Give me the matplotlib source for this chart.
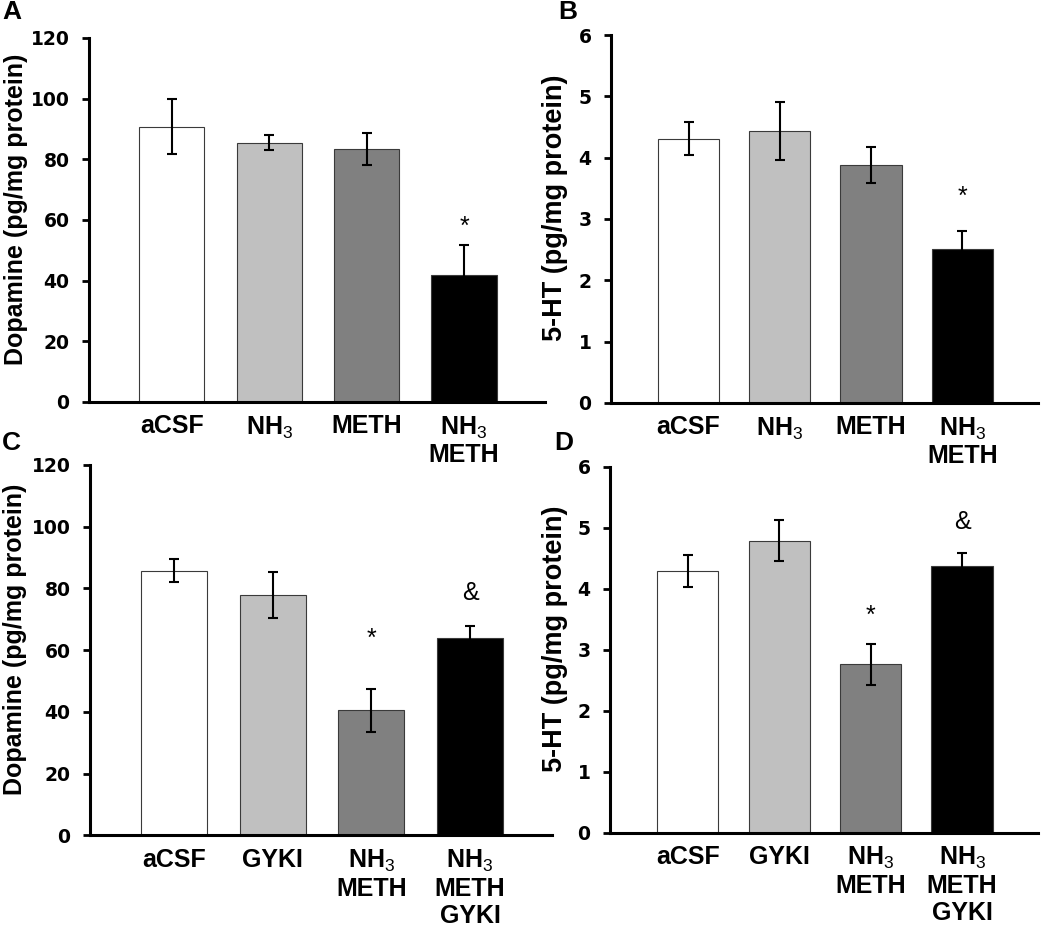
import matplotlib
matplotlib.use("Agg")
import matplotlib.pyplot as plt
import numpy as np

plt.rcParams['font.family'] = 'Liberation Sans'
plt.rcParams['mathtext.fontset'] = 'custom'
plt.rcParams['mathtext.rm'] = 'Liberation Sans'
plt.rcParams['mathtext.bf'] = 'Liberation Sans:bold'

# data (mean, error)
labels_top = ['aCSF', r'NH$_\mathrm{3}$', 'METH', 'NH$_\\mathrm{3}$\nMETH']
labels_bot = ['aCSF', 'GYKI', 'NH$_\\mathrm{3}$\nMETH', 'NH$_\\mathrm{3}$\nMETH\nGYKI']

da_a = [90.8, 85.5, 83.4, 41.9]
da_a_err = [9.0, 2.5, 5.3, 9.8]
ht_b = [4.31, 4.44, 3.88, 2.51]
ht_b_err = [0.27, 0.47, 0.30, 0.30]
da_c = [85.7, 77.9, 40.5, 63.8]
da_c_err = [3.8, 7.4, 7.0, 4.0]
ht_d = [4.29, 4.79, 2.76, 4.37]
ht_d_err = [0.26, 0.34, 0.34, 0.22]

marks_a = ['', '', '', '*']
marks_b = ['', '', '', '*']
marks_c = ['', '', '*', '&']
marks_d = ['', '', '*', '&']

bar_colors = ['white', '#c0c0c0', '#808080', 'black']

fig = plt.figure(figsize=(10.5, 9.26), dpi=100)

panels = [
    # letter, rect, values, errors, labels, marks, ymax, ystep, ylabel, label size, label x, mark pad (pt)
    ('A', [0.0848, 0.566, 0.4342, 0.393], da_a, da_a_err, labels_top, marks_a, 120, 20,
     'Dopamine (pg/mg protein)', 18, -0.134, [13, 13, 13, 13]),
    ('B', [0.5819, 0.565, 0.4067, 0.397], ht_b, ht_b_err, labels_top, marks_b, 6, 1,
     '5-HT (pg/mg protein)', 19.5, -0.10, [24, 24, 24, 24]),
    ('C', [0.0857, 0.098, 0.44, 0.400], da_c, da_c_err, labels_bot, marks_c, 120, 20,
     'Dopamine (pg/mg protein)', 18, -0.136, [36, 36, 36, 24]),
    ('D', [0.581, 0.1007, 0.4076, 0.395], ht_d, ht_d_err, labels_bot, marks_d, 6, 1,
     '5-HT (pg/mg protein)', 19.5, -0.098, [20, 20, 20, 22]),
]

letter_pos = {'A': (0.002, 1.0), 'B': (0.532, 1.0), 'C': (0.002, 0.535), 'D': (0.528, 0.535)}

for letter, rect, vals, errs, labs, marks, ymax, ystep, ylab, lsize, lx, pads in panels:
    ax = fig.add_axes(rect)
    x = np.arange(len(vals))
    ax.bar(x, vals, width=0.67, color=bar_colors, edgecolor='#3a3a3a', linewidth=0.8, zorder=2)
    ax.errorbar(x, vals, yerr=errs, fmt='none', ecolor='black', elinewidth=1.5,
                capsize=3.5, capthick=1.5, zorder=3)
    for xi, v, e, m, p in zip(x, vals, errs, marks, pads):
        if m:
            ax.annotate(m, (xi, v + e), xytext=(0, p), textcoords='offset points',
                        ha='center', va='center', fontsize=18)
    ax.set_xlim(-0.85, 3.83)
    ax.set_ylim(0, ymax)
    ticks = np.arange(0, ymax + ystep / 2, ystep)
    ax.set_yticks(ticks)
    ax.set_yticklabels([str(int(t)) for t in ticks],
                       fontfamily='DejaVu Sans', fontweight='bold', fontsize=13.5)
    ax.set_xticks(x)
    ax.set_xticklabels(labs, fontsize=18, fontweight='bold', va='top', linespacing=1.15)
    ax.tick_params(axis='x', length=0, pad=9)
    ax.tick_params(axis='y', length=5, width=2, pad=9, direction='out')
    for s in ['top', 'right']:
        ax.spines[s].set_visible(False)
    for s in ['left', 'bottom']:
        ax.spines[s].set_linewidth(2.2)
    ax.set_ylabel(ylab, fontsize=lsize, fontweight='bold')
    ax.yaxis.set_label_coords(lx, 0.53)
    fig.text(letter_pos[letter][0], letter_pos[letter][1], letter, fontsize=19,
             fontweight='bold', ha='left', va='top')

fig.savefig('out.png', dpi=100)
